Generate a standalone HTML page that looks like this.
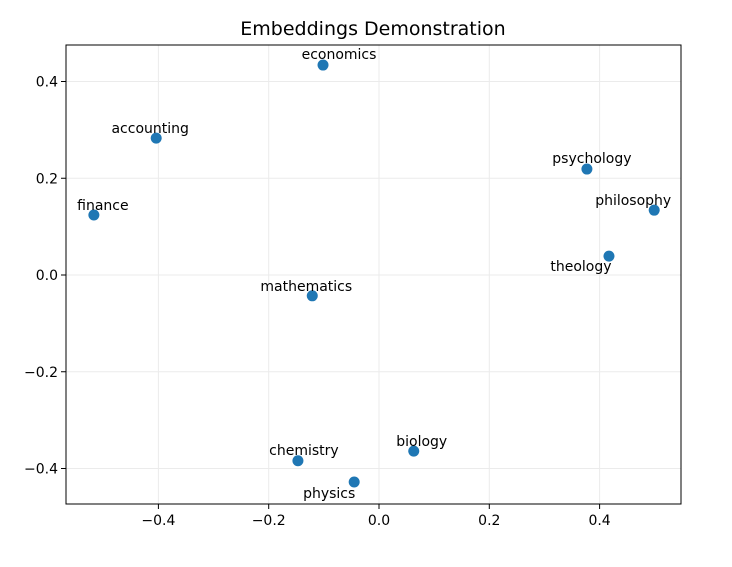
<!DOCTYPE html>
<html><head><meta charset="utf-8"><style>
body{margin:0;background:#fff;}
svg text{font-family:"DejaVu Sans","Liberation Sans",sans-serif;}
</style></head><body>
<svg id="chart" width="732" height="562" xmlns="http://www.w3.org/2000/svg">
<rect width="732" height="562" fill="#fff"/>
<text x="373" y="35" font-size="19" text-anchor="middle">Embeddings Demonstration</text>
<g id="grid"></g><g id="axes"></g><g id="points"></g>
</svg>
<script>
const words = ["economics","accounting","finance","psychology","philosophy","theology","mathematics","chemistry","physics","biology"];
const xValues = [-0.1015,-0.404,-0.517,0.377,0.499,0.417,-0.121,-0.147,-0.045,0.063];
const yValues = [0.434,0.283,0.124,0.219,0.134,0.039,-0.043,-0.384,-0.428,-0.364];
const xTicks = [-0.4,-0.2,0.0,0.2,0.4];
const yTicks = [0.4,0.2,0.0,-0.2,-0.4];
const xTickLabels = ["\u22120.4","\u22120.2","0.0","0.2","0.4"];
const yTickLabels = ["0.4","0.2","0.0","\u22120.2","\u22120.4"];
const labelDx = [16,-6,9,5,-21,-28,-6,6,-25,8];
const labelDy = [-6,-5,-5,-6,-5,15,-5,-6,16,-5];
const L=66,R=681,T=45,B=504;
const sx=v=>379+v*551.5, sy=v=>275-v*483.75;
const NS="http://www.w3.org/2000/svg";
function mk(tag,attrs,parent){const e=document.createElementNS(NS,tag);for(const k in attrs)e.setAttribute(k,attrs[k]);parent.appendChild(e);return e;}
const grid=document.getElementById('grid'),axes=document.getElementById('axes'),pts=document.getElementById('points');
xTicks.forEach((t,i)=>{const x=sx(t);
 const g=mk('line',{x1:x,x2:x,y1:T,y2:B,stroke:'#ebebeb','stroke-width':1},grid);
 
 const tk=mk('line',{x1:x,x2:x,y1:B,y2:B+5,stroke:'#000','stroke-width':1},axes);
 
 const tx=mk('text',{x:x,y:B+21,'font-size':14,'text-anchor':'middle'},axes);tx.textContent=xTickLabels[i];
 });
yTicks.forEach((t,i)=>{const y=sy(t);
 const g=mk('line',{x1:L,x2:R,y1:y,y2:y,stroke:'#ebebeb','stroke-width':1},grid);
 
 const tk=mk('line',{x1:L-5,x2:L,y1:y,y2:y,stroke:'#000','stroke-width':1},axes);
 
 const tx=mk('text',{x:L-8,y:y+5,'font-size':14,'text-anchor':'end'},axes);tx.textContent=yTickLabels[i];
 });
const fr=mk('rect',{x:L,y:T,width:R-L,height:B-T,fill:'none',stroke:'#000','stroke-width':1},axes);

words.forEach((w,i)=>{const x=sx(xValues[i]),y=sy(yValues[i]);
 const c=mk('circle',{cx:x,cy:y,r:5.5,fill:'#1f77b4'},pts);
 
 const t=mk('text',{x:x+labelDx[i],y:y+labelDy[i],'font-size':14,'text-anchor':'middle'},pts);t.textContent=w;
 });
</script>
</body></html>
